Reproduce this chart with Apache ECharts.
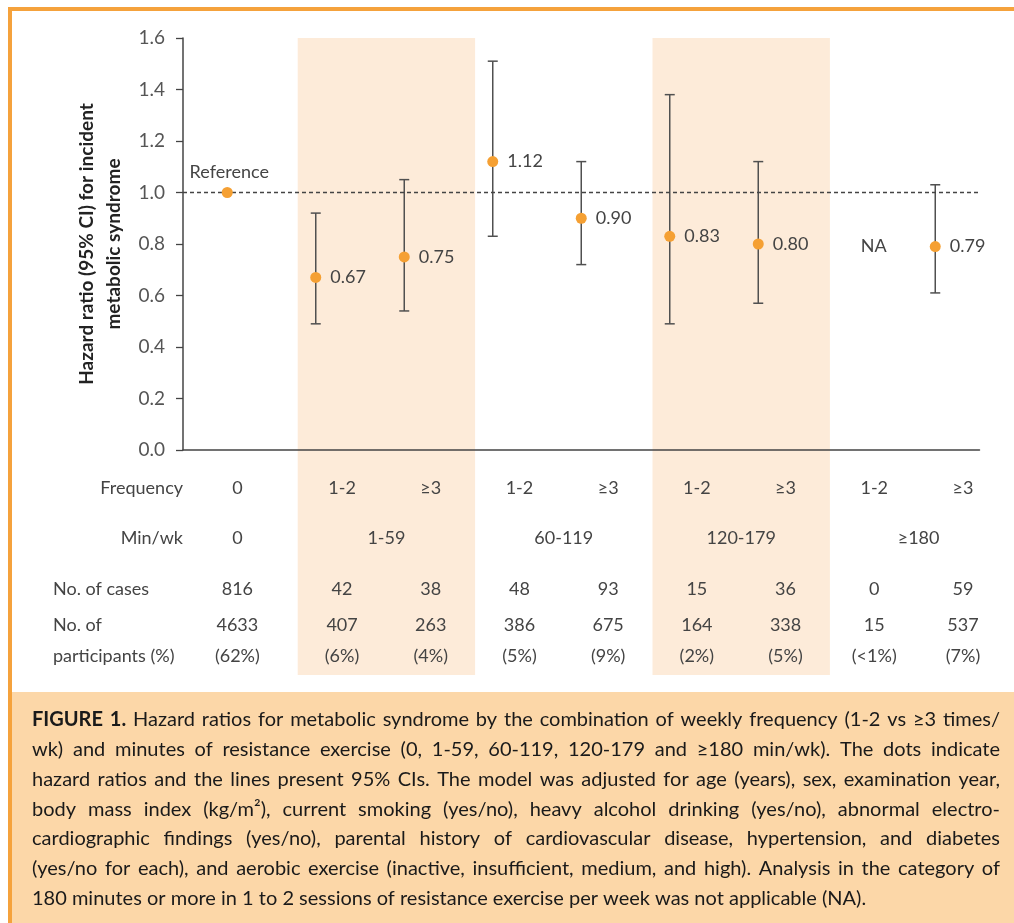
<!DOCTYPE html>
<html><head><meta charset="utf-8">
<script src="https://cdn.jsdelivr.net/npm/echarts@6/dist/echarts.min.js"></script>
<style>html,body{margin:0;padding:0;background:#fff}#c{width:1014px;height:923px}</style>
</head><body><div id="c"></div>
<script>
// ---------------- data ----------------
const categories = ['0|0', '1-59|1-2', '1-59|≥3', '60-119|1-2', '60-119|≥3', '120-179|1-2', '120-179|≥3', '≥180|1-2', '≥180|≥3'];
const hazardRatio = [1.00, 0.67, 0.75, 1.12, 0.90, 0.83, 0.80, null, 0.79];
const ciLower     = [null, 0.49, 0.54, 0.83, 0.72, 0.49, 0.57, null, 0.61];
const ciUpper     = [null, 0.92, 1.05, 1.51, 1.12, 1.38, 1.12, null, 1.03];
const referenceLabel = 'Reference';
const naLabel = 'NA';
const yTickMin = 0, yTickMax = 1.6, yTickStep = 0.2;
const referenceLine = 1.0;

const frequencyRow = ['0', '1-2', '≥3', '1-2', '≥3', '1-2', '≥3', '1-2', '≥3'];
const minWkLabels = ['0', '1-59', '60-119', '120-179', '≥180'];
const minWkSpans  = [[0, 0], [1, 2], [3, 4], [5, 6], [7, 8]];
const casesRow = ['816', '42', '38', '48', '93', '15', '36', '0', '59'];
const participantsRow = ['4633', '407', '263', '386', '675', '164', '338', '15', '537'];
const participantsPct = ['(62%)', '(6%)', '(4%)', '(5%)', '(9%)', '(2%)', '(5%)', '(<1%)', '(7%)'];
const shadedSpans = [[1, 2], [5, 6]];
const rowLabels = ['Frequency', 'Min/wk', 'No. of cases', 'No. of', 'participants (%)'];
const yAxisTitle = 'Hazard ratio (95% CI) for incident\nmetabolic syndrome';
const captionLines = [
  'FIGURE 1. Hazard ratios for metabolic syndrome by the combination of weekly frequency (1-2 vs ≥3 times/',
  'wk) and minutes of resistance exercise (0, 1-59, 60-119, 120-179 and ≥180 min/wk). The dots indicate',
  'hazard ratios and the lines present 95% CIs. The model was adjusted for age (years), sex, examination year,',
  'body mass index (kg/m²), current smoking (yes/no), heavy alcohol drinking (yes/no), abnormal electro-',
  'cardiographic findings (yes/no), parental history of cardiovascular disease, hypertension, and diabetes',
  '(yes/no for each), and aerobic exercise (inactive, insufficient, medium, and high). Analysis in the category of',
  '180 minutes or more in 1 to 2 sessions of resistance exercise per week was not applicable (NA).'
];
const captionBoldWords = 2;

// ---------------- layout / style ----------------
const FONT = 'Lato';
const TXT = '#444';
const ORANGE = '#f5a23c';
const BAND = '#fdebd9';
const CAPBG = '#fcd7a8';
const DOT = '#f5a033';
const firstColShift = -16;
const rowY = [488, 538, 589, 625, 656];

const chart = echarts.init(document.getElementById('c'), null, {renderer: 'canvas'});

const errData = [];
hazardRatio.forEach((v, i) => { if (ciLower[i] != null) errData.push([i, ciLower[i], ciUpper[i]]); });
const pointData = [];
hazardRatio.forEach((v, i) => {
  if (v == null) return;
  pointData.push({
    value: [i, v],
    label: i === 0
      ? {show: true, position: 'top', distance: 6, offset: [2, 0], formatter: referenceLabel}
      : {show: true, position: 'right', distance: 9, formatter: v.toFixed(2)}
  });
});

// caption measurement (justified, horizontally condensed text)
const mctx = document.createElement('canvas').getContext('2d');
function mw(t, size, bold) { mctx.font = (bold ? 'bold ' : '') + size + 'px ' + FONT; return mctx.measureText(t).width; }
const capLeft = 32, capRight = 1000, capW = capRight - capLeft;
const capSize = 20;
let capScale = 1;
(function () {
  let maxNat = 0;
  captionLines.forEach((ln, li) => {
    const words = ln.split(' ');
    let w = 0;
    words.forEach((wd, k) => { w += mw(wd, capSize, li === 0 && k < captionBoldWords); });
    w += (words.length - 1) * mw(' ', capSize, false);
    maxNat = Math.max(maxNat, w);
  });
  capScale = Math.min(1, (capW - 4) / maxNat);
})();
const captionEls = [];
captionLines.forEach((ln, li) => {
  const words = ln.split(' ');
  const widths = words.map((wd, k) => mw(wd, capSize, li === 0 && k < captionBoldWords) * capScale);
  const sum = widths.reduce((a, b) => a + b, 0);
  const last = li === captionLines.length - 1;
  const gap = last ? mw(' ', capSize, false) * capScale : (capW - sum) / (words.length - 1);
  let x = capLeft;
  const y = 720 + li * 29.7;
  words.forEach((wd, k) => {
    const bold = li === 0 && k < captionBoldWords;
    captionEls.push({type: 'text', x: x, y: y, z: 20, scaleX: capScale,
      style: {text: wd, font: (bold ? 'bold ' : '') + capSize + 'px ' + FONT, fill: '#1a1a1a', textVerticalAlign: 'middle'}});
    x += widths[k] + gap;
  });
});

const option = {
  backgroundColor: '#fff',
  animation: false,
  textStyle: {fontFamily: FONT},
  grid: [
    {left: 183, top: 38, width: 796.5, height: 412},
    {left: 209, top: 38, width: 798.3, height: 637}
  ],
  xAxis: [
    {gridIndex: 0, type: 'category', data: categories, z: 6,
      axisLine: {lineStyle: {color: '#444', width: 1.5}}, axisTick: {show: false}, axisLabel: {show: false}},
    {gridIndex: 1, type: 'category', data: categories, show: false}
  ],
  yAxis: [
    {gridIndex: 0, type: 'value', min: yTickMin, max: yTickMax, interval: yTickStep, z: 6,
      name: yAxisTitle, nameLocation: 'middle', nameGap: 52,
      nameTextStyle: {fontFamily: FONT, fontWeight: 'bold', fontSize: 19, lineHeight: 27, color: '#222'},
      axisLine: {show: true, lineStyle: {color: '#444', width: 1.5}},
      axisTick: {show: true, length: 7, lineStyle: {color: '#444', width: 1.3}},
      axisLabel: {margin: 18, fontSize: 19, color: '#555', fontFamily: FONT, formatter: v => v.toFixed(1)},
      splitLine: {show: false}},
    {gridIndex: 1, type: 'value', min: 0, max: 1, show: false}
  ],
  series: [
    { // shaded bands
      type: 'custom', xAxisIndex: 1, yAxisIndex: 1, z: 0, silent: true,
      data: shadedSpans,
      renderItem: function (params, api) {
        const a = api.coord([api.value(0), 0]), b = api.coord([api.value(1), 0]);
        const w = api.size([1, 0])[0];
        const cs = params.coordSys;
        return {type: 'rect', shape: {x: a[0] - w / 2, y: cs.y, width: b[0] - a[0] + w, height: cs.height},
          style: {fill: BAND}};
      }
    },
    { // table columns
      type: 'custom', xAxisIndex: 1, yAxisIndex: 1, z: 4, silent: true,
      data: frequencyRow.map((f, i) => [i]),
      renderItem: function (params, api) {
        const i = api.value(0);
        const x = api.coord([i, 0])[0] + (i === 0 ? firstColShift : 0);
        const texts = [frequencyRow[i], casesRow[i], participantsRow[i], participantsPct[i]];
        const ys = [rowY[0], rowY[2], rowY[3], rowY[4]];
        return {type: 'group', children: texts.map((t, k) => ({
          type: 'text', x: x, y: ys[k],
          style: {text: t, font: '18px ' + FONT, fill: TXT, textAlign: 'center', textVerticalAlign: 'middle'}}))};
      }
    },
    { // Min/wk group labels
      type: 'custom', xAxisIndex: 1, yAxisIndex: 1, z: 4, silent: true,
      data: minWkSpans.map((s, g) => [s[0], s[1], g]),
      renderItem: function (params, api) {
        const s = api.value(0), e = api.value(1), g = api.value(2);
        const xs = api.coord([s, 0])[0] + (s === 0 ? firstColShift : 0);
        const xe = api.coord([e, 0])[0] + (e === 0 ? firstColShift : 0);
        return {type: 'text', x: (xs + xe) / 2, y: rowY[1],
          style: {text: minWkLabels[g], font: '18px ' + FONT, fill: TXT, textAlign: 'center', textVerticalAlign: 'middle'}};
      }
    },
    { // error bars + reference line
      type: 'custom', xAxisIndex: 0, yAxisIndex: 0, z: 3, silent: true,
      data: errData,
      renderItem: function (params, api) {
        const lo = api.coord([api.value(0), api.value(1)]);
        const hi = api.coord([api.value(0), api.value(2)]);
        const h = 5;
        const st = {stroke: '#505050', lineWidth: 1.5};
        return {type: 'group', children: [
          {type: 'line', shape: {x1: lo[0], y1: lo[1], x2: hi[0], y2: hi[1]}, style: st},
          {type: 'line', shape: {x1: lo[0] - h, y1: lo[1], x2: lo[0] + h, y2: lo[1]}, style: st},
          {type: 'line', shape: {x1: hi[0] - h, y1: hi[1], x2: hi[0] + h, y2: hi[1]}, style: st}
        ]};
      },
      markLine: {silent: true, symbol: 'none', label: {show: false},
        lineStyle: {type: [4, 3], color: '#444', width: 1.3},
        data: [{yAxis: referenceLine}]}
    },
    { // points
      type: 'scatter', xAxisIndex: 0, yAxisIndex: 0, z: 5, silent: true,
      symbol: 'circle', symbolSize: 11,
      itemStyle: {color: DOT, opacity: 1},
      label: {fontSize: 18, color: TXT, fontFamily: FONT},
      data: pointData
    }
  ],
  graphic: [
    {type: 'rect', shape: {x: 8, y: 7, width: 1006, height: 4}, style: {fill: ORANGE}, z: 10},
    {type: 'rect', shape: {x: 8, y: 7, width: 4, height: 916}, style: {fill: ORANGE}, z: 10},
    {type: 'rect', shape: {x: 12, y: 692, width: 1002, height: 231}, style: {fill: CAPBG}, z: 9},
    {type: 'text', x: 183, y: rowY[0], z: 10, style: {text: rowLabels[0], font: '18px ' + FONT, fill: TXT, textAlign: 'right', textVerticalAlign: 'middle'}},
    {type: 'text', x: 183, y: rowY[1], z: 10, style: {text: rowLabels[1], font: '18px ' + FONT, fill: TXT, textAlign: 'right', textVerticalAlign: 'middle'}},
    {type: 'text', x: 53, y: rowY[2], z: 10, style: {text: rowLabels[2], font: '18px ' + FONT, fill: TXT, textAlign: 'left', textVerticalAlign: 'middle'}},
    {type: 'text', x: 53, y: rowY[3], z: 10, style: {text: rowLabels[3], font: '18px ' + FONT, fill: TXT, textAlign: 'left', textVerticalAlign: 'middle'}},
    {type: 'text', x: 53, y: rowY[4], z: 10, style: {text: rowLabels[4], font: '18px ' + FONT, fill: TXT, textAlign: 'left', textVerticalAlign: 'middle'}}
  ].concat(captionEls)
};
chart.setOption(option);

// NA label: aligned with the neighbouring point's label row, at the empty category
const naIdx = hazardRatio.indexOf(null);
const naX = chart.convertToPixel({xAxisIndex: 0}, naIdx) + 14;
const naY = chart.convertToPixel({yAxisIndex: 0}, hazardRatio[naIdx + 1]);
chart.setOption({graphic: option.graphic.concat([
  {type: 'text', x: naX, y: naY, z: 10, style: {text: naLabel, font: '18px ' + FONT, fill: TXT, textAlign: 'left', textVerticalAlign: 'middle'}}
])});
</script>
</body></html>
